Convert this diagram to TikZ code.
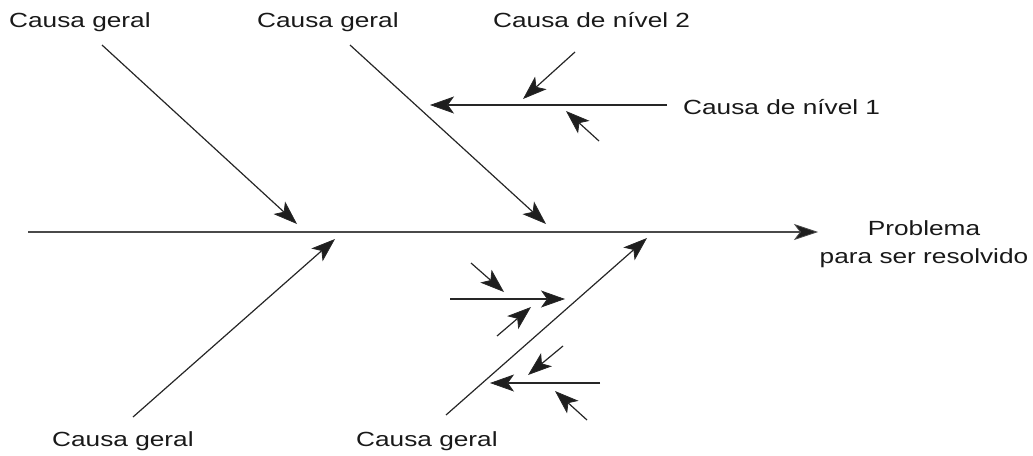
\documentclass[tikz,border=0pt]{standalone}
\usepackage{fontspec}
\setmainfont{Liberation Sans}
\newfontfamily\lblfont[FakeStretch=1.28]{Liberation Sans}
\usetikzlibrary{arrows.meta}
\definecolor{inkc}{HTML}{262626}
\definecolor{spinec}{HTML}{4A4A4A}
\definecolor{headc}{HTML}{1E1E1E}
\tikzset{
  lbl/.style={inner sep=0pt, font=\lblfont\fontsize{20.5pt}{28pt}\selectfont, text=black!90},
  cause/.style={draw=inkc, line width=1.2pt, -{Stealth[length=24pt,width=17pt,inset=6pt,fill=headc,line width=0.8pt]}},
  spine/.style={draw=spinec, line width=1.6pt, -{Stealth[length=24pt,width=16pt,inset=6pt,fill=headc,line width=0.8pt]}}
}
\begin{document}
\begin{tikzpicture}[x=1pt,y=-1pt]
\useasboundingbox (0,0) rectangle (1033,455);
% labels
\node[lbl, anchor=base west] (cg1) at (9,27.3) {Causa geral};
\node[lbl, anchor=base west] (cg2) at (257,27.3) {Causa geral};
\node[lbl, anchor=base west] (n2) at (493,27.3) {Causa de nível 2};
\node[lbl, anchor=base west] (n1) at (683,114.3) {Causa de nível 1};
\node[lbl, anchor=base west] (cg3) at (52,446.7) {Causa geral};
\node[lbl, anchor=base west] (cg4) at (356,446.7) {Causa geral};
\node[lbl, anchor=north, align=center] (prob) at (924,220) {Problema\\para ser resolvido};
% spine
\coordinate (s0) at (28,232);
\coordinate (s1) at (818,232);
\draw[spine] (s0) -- (s1);
% general causes
\coordinate (a0) at (102,45);  \coordinate (a1) at (297,224);
\coordinate (b0) at (350,45);  \coordinate (b1) at (546,224);
\coordinate (c0) at (133,417); \coordinate (c1) at (335,239);
\coordinate (d0) at (446,415); \coordinate (d1) at (647,238);
\draw[cause] (a0) -- (a1);
\draw[cause] (b0) -- (b1);
\draw[cause] (c0) -- (c1);
\draw[cause] (d0) -- (d1);
% level 1 and 2 (upper)
\coordinate (e0) at (667,105); \coordinate (e1) at (430,105);
\draw[cause] (e0) -- (e1);
\coordinate (f0) at (575,52);  \coordinate (f1) at (523,99);
\coordinate (g0) at (599,141); \coordinate (g1) at (566,111);
\draw[cause] (f0) -- (f1);
\draw[cause] (g0) -- (g1);
% lower sub-branches
\coordinate (h0) at (450,299); \coordinate (h1) at (565,299);
\draw[cause] (h0) -- (h1);
\coordinate (i0) at (471,263); \coordinate (i1) at (504,292);
\coordinate (j0) at (497,336); \coordinate (j1) at (531,307);
\draw[cause] (i0) -- (i1);
\draw[cause] (j0) -- (j1);
\coordinate (k0) at (600,383); \coordinate (k1) at (490,383);
\draw[cause] (k0) -- (k1);
\coordinate (l0) at (563,346); \coordinate (l1) at (528,375);
\coordinate (m0) at (587,420); \coordinate (m1) at (555,391);
\draw[cause] (l0) -- (l1);
\draw[cause] (m0) -- (m1);
\end{tikzpicture}
\end{document}
